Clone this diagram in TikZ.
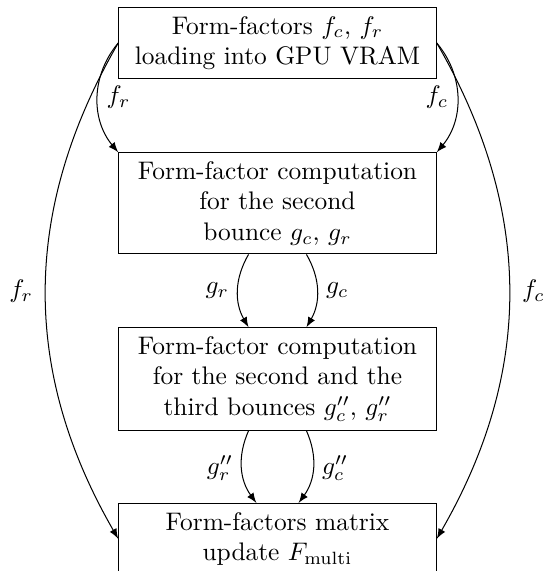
\documentclass[tikz,border=0pt]{standalone}
\usetikzlibrary{arrows}
\begin{document}
\begin{tikzpicture}[x=0.3937pt, y=-0.3937pt, >=latex,
  box/.style={draw, align=center, minimum width=125pt, anchor=north, inner sep=3.4pt},
  conn/.style={->}]
\useasboundingbox (0,0) rectangle (545,571);
\node[box] (b1) at (277.5,7) {Form-factors $f_c$, $f_r$\\loading into GPU VRAM};
\node[box] (b2) at (277.5,152.3) {Form-factor computation\\for the second\\bounce $g_c$, $g_r$};
\node[box] (b3) at (277.5,327.3) {Form-factor computation\\for the second and the\\third bounces $g''_c$, $g''_r$};
\node[box] (b4) at (277.5,503) {Form-factors matrix\\update $F_{\mathrm{multi}}$};
% short side arrows
\draw[conn] (b1.west) to[bend right=40] node[right] {$f_r$} (b2.north west);
\draw[conn] (b1.east) to[bend left=40] node[left] {$f_c$} (b2.north east);
% long side arrows
\draw[conn] (b1.west) to[bend right=30] node[left, xshift=-1.5pt] {$f_r$} (b4.west);
\draw[conn] (b1.east) to[bend left=30] node[right, xshift=1.5pt] {$f_c$} (b4.east);
% middle arrows
\draw[conn] ([xshift=-11.4pt]b2.south) to[bend right=30] node[left] {$g_r$} ([xshift=-11.4pt]b3.north);
\draw[conn] ([xshift=11.4pt]b2.south) to[bend left=30] node[right] {$g_c$} ([xshift=11.4pt]b3.north);
% bottom arrows
\draw[conn] ([xshift=-11.4pt]b3.south) to[bend right=30] node[left] {$g''_r$} ([xshift=-8.3pt]b4.north);
\draw[conn] ([xshift=11.4pt]b3.south) to[bend left=30] node[right] {$g''_c$} ([xshift=8.3pt]b4.north);
\end{tikzpicture}
\end{document}
